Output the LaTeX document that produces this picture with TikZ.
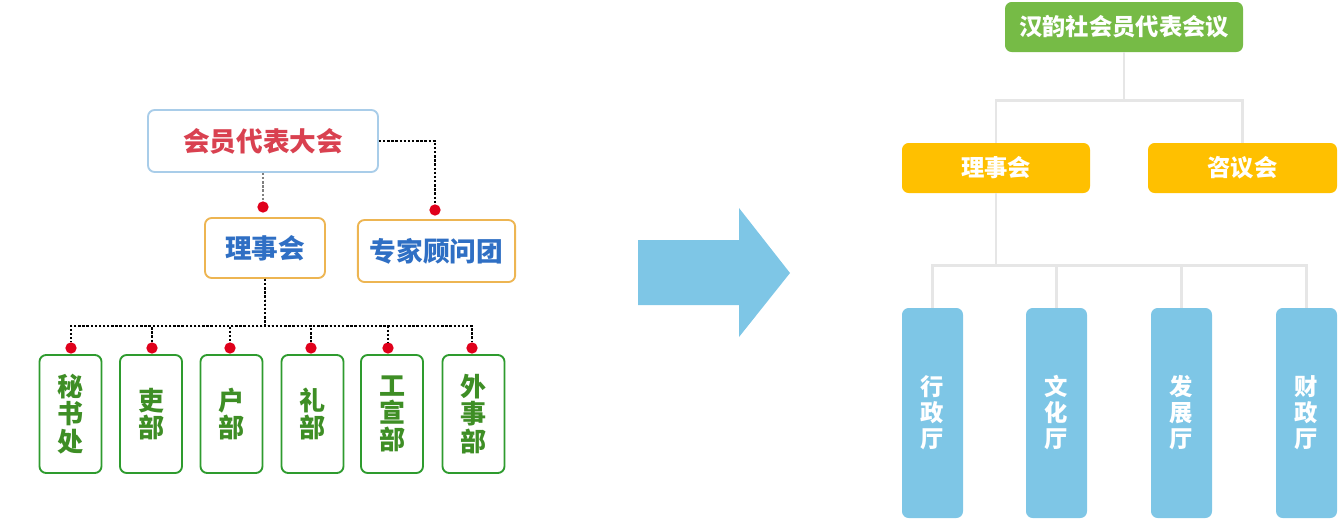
\documentclass[tikz,border=0pt]{standalone}
\usepackage{fontspec}
\setmainfont{Noto Sans CJK SC}
\definecolor{oldblue}{HTML}{A9CDE9}
\definecolor{oldred}{HTML}{D94150}
\definecolor{oldorange}{HTML}{EDB552}
\definecolor{oldtext}{HTML}{2F6FC4}
\definecolor{oldgreen}{HTML}{2E9B2E}
\definecolor{oldgtext}{HTML}{3E8E25}
\definecolor{dotred}{HTML}{E0001B}
\definecolor{newgreen}{HTML}{76BB46}
\definecolor{newgold}{HTML}{FFC000}
\definecolor{newsky}{HTML}{7EC6E6}
\definecolor{linkgray}{HTML}{E6E6E6}
\tikzset{
  oldbox/.style={draw, rounded corners=5pt, line width=1.4pt, inner sep=0pt, fill=white},
  deptbox/.style={oldbox, draw=oldgreen, text=oldgtext, minimum width=46.5pt, minimum height=88.5pt,
    align=center, font=\bfseries\fontsize{19.5pt}{20.5pt}\selectfont},
  reddot/.style={circle, fill=dotred, inner sep=0pt, minimum size=8.5pt},
  dotline/.style={black, line width=1pt, dash pattern=on 1.8pt off 1.3pt},
  newbox/.style={rounded corners=5pt, inner sep=0pt, text=white, font=\bfseries\fontsize{17.5pt}{18pt}\selectfont},
  hallbox/.style={newbox, fill=newsky, minimum width=45.75pt, minimum height=157.5pt, align=center,
    font=\bfseries\fontsize{17.5pt}{19.5pt}\selectfont},
  link/.style={linkgray, line width=2.2pt},
}
\begin{document}
\begin{tikzpicture}[x=0.75pt,y=-0.75pt]
\useasboundingbox (0,0) rectangle (1338,519);
% old structure
\node[oldbox, draw=oldblue, text=oldred, minimum width=172.5pt, minimum height=46.5pt,
  font=\bfseries\fontsize{20pt}{20pt}\selectfont] (assembly) at (263,141) {会员代表大会};
\node[oldbox, draw=oldorange, text=oldtext, minimum width=90pt, minimum height=45pt,
  font=\bfseries\fontsize{20pt}{20pt}\selectfont] (council) at (265,248) {理事会};
\node[oldbox, draw=oldorange, text=oldtext, minimum width=118pt, minimum height=46.5pt,
  font=\bfseries\fontsize{20pt}{20pt}\selectfont] (experts) at (436.5,251) {专家顾问团};
\node[deptbox] (secr) at (70.5,414) {秘\\书\\处};
\node[deptbox] (libu) at (151,414) {吏\\部};
\node[deptbox] (hubu) at (231.5,414) {户\\部};
\node[deptbox] (lbu) at (312.5,414) {礼\\部};
\node[deptbox] (gong) at (392,414) {工\\宣\\部};
\node[deptbox] (waishi) at (473.5,414) {外\\事\\部};
\node[reddot] (dcouncil) at (263,207) {};
\node[reddot] (dexperts) at (435,210) {};
\node[reddot] (dsecr) at (71,348) {};
\node[reddot] (dlibu) at (152,348) {};
\node[reddot] (dhubu) at (230,348) {};
\node[reddot] (dlbu) at (311,348) {};
\node[reddot] (dgong) at (388,348) {};
\node[reddot] (dwaishi) at (472,348) {};
\draw[dotline, gray] (assembly.south) -- (dcouncil);
\draw[dotline] (assembly.east) -| (dexperts);
\draw[dotline] (council.south) -- ++(0,47) -| (dsecr);
\draw[dotline] (council.south) -- ++(0,47) -| (dlibu);
\draw[dotline] (council.south) -- ++(0,47) -| (dhubu);
\draw[dotline] (council.south) -- ++(0,47) -| (dlbu);
\draw[dotline] (council.south) -- ++(0,47) -| (dgong);
\draw[dotline] (council.south) -- ++(0,47) -| (dwaishi);
% arrow
\fill[newsky] (638,240) -- (739,240) -- (739,208) -- (790,273) -- (739,337) -- (739,305) -- (638,305) -- cycle;
% new structure
\node[newbox, fill=newgreen, minimum width=178.5pt, minimum height=37.5pt] (meeting) at (1124,27) {汉韵社会员代表会议};
\node[newbox, fill=newgold, minimum width=141pt, minimum height=37.5pt] (board) at (996,168) {理事会};
\node[newbox, fill=newgold, minimum width=141.75pt, minimum height=37.5pt] (advisory) at (1242.5,168) {咨议会};
\node[hallbox] (admin) at (932.5,413) {行\\政\\厅};
\node[hallbox] (culture) at (1056.5,413) {文\\化\\厅};
\node[hallbox] (devel) at (1181.5,413) {发\\展\\厅};
\node[hallbox] (finance) at (1306.5,413) {财\\政\\厅};
\draw[link] (meeting.south) -- ++(0,48) -| (board.north);
\draw[link] (meeting.south) -- ++(0,48) -| (advisory.north);
\draw[link] (board.south) -- ++(0,72) -| (admin.north);
\draw[link] (board.south) -- ++(0,72) -| (culture.north);
\draw[link] (board.south) -- ++(0,72) -| (devel.north);
\draw[link] (board.south) -- ++(0,72) -| (finance.north);
\end{tikzpicture}
\end{document}
